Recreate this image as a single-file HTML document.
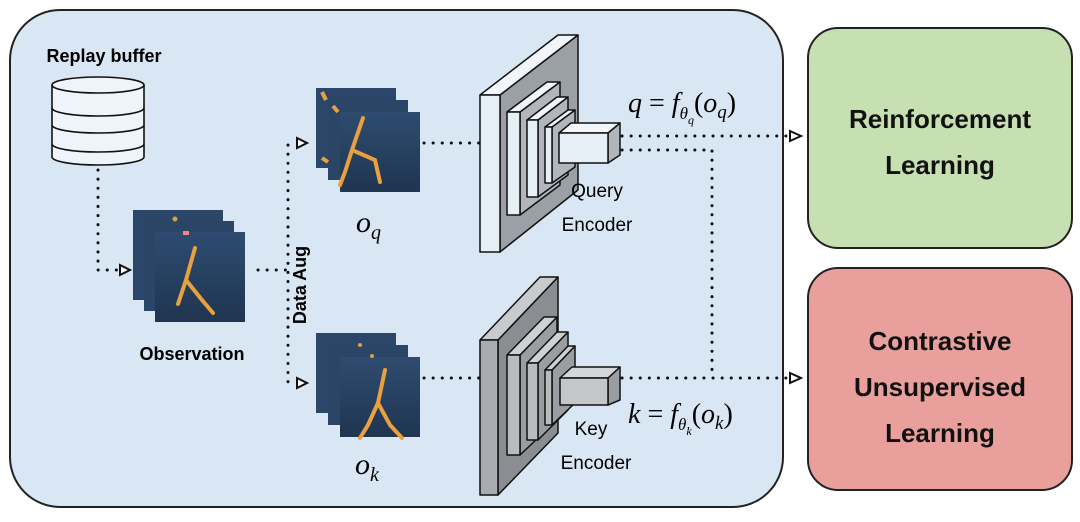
<!DOCTYPE html>
<html><head><meta charset="utf-8"><style>
body{margin:0;background:#fff;width:1080px;height:517px;overflow:hidden}
text{font-family:"Liberation Sans",sans-serif}
.m{font-family:"Liberation Serif",serif;font-style:italic}
</style></head><body>
<svg width="1080" height="517" viewBox="0 0 1080 517" xmlns="http://www.w3.org/2000/svg">
<defs>
<linearGradient id="img" x1="0" y1="0" x2="0" y2="1"><stop offset="0" stop-color="#2e4c70"/><stop offset="1" stop-color="#1f3550"/></linearGradient>
</defs>
<rect x="10" y="10" width="773" height="497" rx="50" fill="#d8e7f3" stroke="#222" stroke-width="2"/>
<rect x="808" y="28" width="264" height="220" rx="30" fill="#c6e0b2" stroke="#222" stroke-width="2"/>
<rect x="808" y="268" width="264" height="222" rx="30" fill="#e9a09d" stroke="#222" stroke-width="2"/>
<g font-weight="bold" font-size="26" text-anchor="middle" fill="#111">
<text x="940" y="128">Reinforcement</text><text x="940" y="174">Learning</text>
<text x="940" y="350">Contrastive</text><text x="940" y="396">Unsupervised</text><text x="940" y="442">Learning</text>
</g>
<text x="104" y="62" font-size="18" font-weight="bold" text-anchor="middle">Replay buffer</text>
<g stroke="#111" stroke-width="1.6" fill="#eef4fa">
<path d="M52 85 V157 A46 8 0 0 0 144 157 V85"/>
<ellipse cx="98" cy="85" rx="46" ry="8"/>
<path d="M52 108 A46 8 0 0 0 144 108 M52 125 A46 8 0 0 0 144 125 M52 144 A46 8 0 0 0 144 144" fill="none"/>
</g>
<g stroke="#111" stroke-width="3" stroke-dasharray="0.1 9" fill="none" stroke-linecap="round">
<path d="M98 170 V270 H118"/>
<path d="M258 270 H288"/>
<path d="M288 145 V383"/>
<path d="M424 143 H480"/>
<path d="M424 378 H480"/>
<path d="M622 136 H788"/>
<path d="M622 150 H712 V378"/>
<path d="M622 378 H788"/>
</g>
<g fill="#fff" stroke="#111" stroke-width="2">
<path d="M120 265 L130 270 L120 275 Z"/>
<path d="M297 138 L307 143 L297 148 Z"/>
<path d="M297 378 L307 383 L297 388 Z"/>
<path d="M790 131 L801 136 L790 141 Z"/>
<path d="M790 373 L801 378 L790 383 Z"/>
</g>
<g>
<rect x="133" y="210" width="90" height="90" fill="#2b4668"/>
<rect x="144" y="221" width="90" height="90" fill="#2a4565"/>
<rect x="155" y="232" width="90" height="90" fill="url(#img)"/>
<circle cx="175" cy="219" r="2.5" fill="#d9a23a"/><rect x="183" y="231" width="6" height="4" fill="#e88"/>
<path d="M195 248 L186 280 L202 300 L213 313 M186 280 L178 304" stroke="#e8a040" stroke-width="4" fill="none" stroke-linecap="round"/>
</g>
<text x="192" y="360" font-size="18" font-weight="bold" text-anchor="middle">Observation</text>
<text transform="translate(306,285) rotate(-90)" font-size="18" font-weight="bold" text-anchor="middle">Data Aug</text>
<g>
<rect x="316" y="88" width="80" height="80" fill="#2b4668"/>
<rect x="328" y="100" width="80" height="80" fill="#2a4565"/>
<rect x="340" y="112" width="80" height="80" fill="url(#img)"/>
<path d="M322 92 l4 8 M333 106 l5 6 M322 158 l6 4" stroke="#e8a040" stroke-width="4"/>
<path d="M363 118 L352 150 L375 160 L380 182 M352 150 L345 172 L340 185" stroke="#e8a040" stroke-width="4" fill="none" stroke-linecap="round"/>
</g>
<text x="356" y="232" class="m" font-size="30">o<tspan font-size="20" dy="7">q</tspan></text>
<g>
<rect x="316" y="333" width="80" height="80" fill="#2b4668"/>
<rect x="328" y="345" width="80" height="80" fill="#2a4565"/>
<rect x="340" y="357" width="80" height="80" fill="url(#img)"/>
<circle cx="360" cy="345" r="2" fill="#d9a23a"/><circle cx="372" cy="356" r="2" fill="#d9a23a"/>
<path d="M385 370 L378 403 L390 425 L402 438 M378 403 L368 425 L360 438" stroke="#e8a040" stroke-width="4" fill="none" stroke-linecap="round"/>
</g>
<text x="355" y="474" class="m" font-size="30">o<tspan font-size="20" dy="7">k</tspan></text>
<g stroke="#111" stroke-width="1.5" stroke-linejoin="round">
<path d="M500 95 L578 35 V190 L500 252 Z" fill="#9aa0a6"/>
<path d="M480 95 L558 35 H578 L500 95 Z" fill="#f2f6fa"/>
<rect x="480" y="95" width="20" height="157" fill="#e6eef6"/>
<path d="M520 112 L560 82 V185 L520 215 Z" fill="#b0b6bc"/>
<path d="M507 112 L547 82 H560 L520 112 Z" fill="#f2f6fa"/>
<rect x="507" y="112" width="13" height="103" fill="#e6eef6"/>
<path d="M538 120 L568 97 V175 L538 197 Z" fill="#b0b6bc"/>
<path d="M527 120 L557 97 H568 L538 120 Z" fill="#f2f6fa"/>
<rect x="527" y="120" width="11" height="77" fill="#e6eef6"/>
<path d="M552 127 L575 110 V167 L552 183 Z" fill="#b0b6bc"/>
<path d="M545 127 L568 110 H575 L552 127 Z" fill="#f2f6fa"/>
<rect x="545" y="127" width="7" height="56" fill="#e6eef6"/>
<path d="M608 133 L620 123 V155 L608 163 Z" fill="#b0b6bc"/>
<path d="M559 133 L571 123 H620 L608 133 Z" fill="#f2f6fa"/>
<rect x="559" y="133" width="49" height="30" fill="#e6eef6"/>
</g>
<text x="597" y="197" font-size="19" text-anchor="middle">Query</text>
<text x="597" y="231" font-size="19" text-anchor="middle">Encoder</text>
<g stroke="#111" stroke-width="1.5" stroke-linejoin="round">
<path d="M498 340 L558 277 V433 L498 495 Z" fill="#8a8e92"/>
<path d="M480 340 L540 277 H558 L498 340 Z" fill="#c8cacc"/>
<rect x="480" y="340" width="18" height="155" fill="#a9acaf"/>
<path d="M520 355 L557 317 V420 L520 455 Z" fill="#9a9ea2"/>
<path d="M507 355 L544 317 H557 L520 355 Z" fill="#cfd1d3"/>
<rect x="507" y="355" width="13" height="100" fill="#b9bbbd"/>
<path d="M538 363 L568 332 V410 L538 440 Z" fill="#9a9ea2"/>
<path d="M527 363 L557 332 H568 L538 363 Z" fill="#cfd1d3"/>
<rect x="527" y="363" width="11" height="77" fill="#b9bbbd"/>
<path d="M552 370 L575 346 V403 L552 425 Z" fill="#9a9ea2"/>
<path d="M545 370 L568 346 H575 L552 370 Z" fill="#cfd1d3"/>
<rect x="545" y="370" width="7" height="55" fill="#b9bbbd"/>
<path d="M608 378 L620 367 V400 L608 405 Z" fill="#9a9ea2"/>
<path d="M560 378 L572 367 H620 L608 378 Z" fill="#d4d6d8"/>
<rect x="560" y="378" width="48" height="27" fill="#c4c6c8"/>
</g>
<text x="591" y="435" font-size="19" text-anchor="middle">Key</text>
<text x="596" y="469" font-size="19" text-anchor="middle">Encoder</text>
<text x="628" y="112" class="m" font-size="28">q <tspan font-style="normal">=</tspan> f<tspan font-size="17" dy="7">θ</tspan><tspan font-size="12" dy="5">q</tspan><tspan font-style="normal" dy="-12">(</tspan>o<tspan font-size="19" dy="6">q</tspan><tspan font-style="normal" dy="-6">)</tspan></text>
<text x="628" y="423" class="m" font-size="28">k <tspan font-style="normal">=</tspan> f<tspan font-size="17" dy="7">θ</tspan><tspan font-size="12" dy="5">k</tspan><tspan font-style="normal" dy="-12">(</tspan>o<tspan font-size="19" dy="6">k</tspan><tspan font-style="normal" dy="-6">)</tspan></text>
</svg>
</body></html>
